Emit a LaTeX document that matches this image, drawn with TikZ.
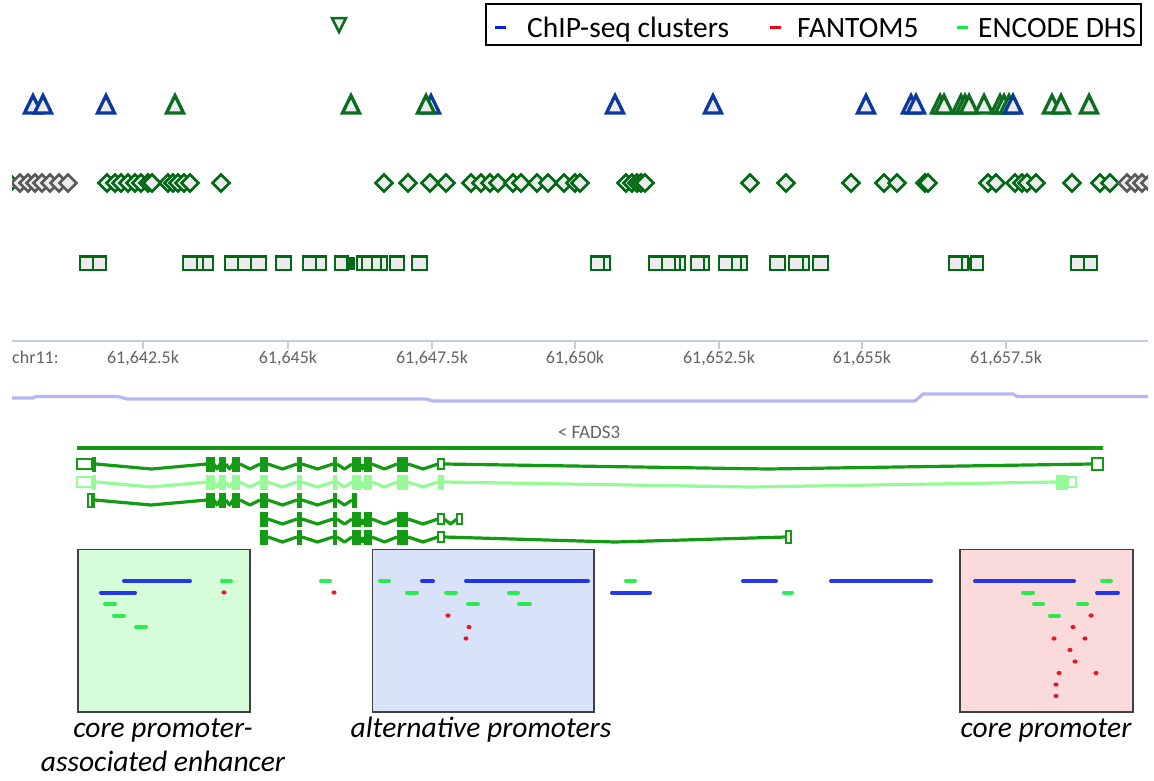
\documentclass[tikz,border=0pt]{standalone}
\usepackage{fontspec}
\setmainfont{Carlito}
\definecolor{trb}{RGB}{8,56,160}
\definecolor{trg}{RGB}{10,110,30}
\definecolor{dg}{RGB}{0,105,20}
\definecolor{gry}{RGB}{90,90,90}
\definecolor{axt}{RGB}{100,100,100}
\definecolor{shfill}{RGB}{236,236,236}
\definecolor{gg}{RGB}{20,155,20}
\definecolor{lg}{RGB}{150,250,150}
\definecolor{axc}{RGB}{196,206,226}
\definecolor{purp}{RGB}{182,182,242}
\definecolor{barb}{RGB}{10,30,235}
\definecolor{barg}{RGB}{20,235,60}
\definecolor{barr}{RGB}{235,0,20}
\definecolor{boxg}{RGB}{214,253,218}
\definecolor{boxb}{RGB}{216,226,248}
\definecolor{boxp}{RGB}{250,218,219}
\newcommand{\gexon}[4]{\fill[#4] (#1,{#3-7.5}) rectangle (#2,{#3+7.5});}
\newcommand{\gintr}[4]{\draw[intron,#4] (#1,#3)--({(#1+#2)/2},{#3+5})--(#2,#3);}
\newcommand{\gutr}[4]{\draw[utr,draw=#4] (#1,{#3-5}) rectangle (#2,{#3+5});}
\newcommand{\trishape}[2]{\draw[tri,draw=#2] ({#1-8.5},113)--(#1,95.5)--({#1+8.5},113)--cycle;}
\newcommand{\diashape}[2]{\draw[dia,draw=#2] ({#1-8.5},183)--(#1,174.5)--({#1+8.5},183)--(#1,191.5)--cycle;}
\newcommand{\sqshape}[2]{\draw[sq] (#1,256.5) rectangle (#2,270);}
\newcommand{\mybar}[4]{\draw[bar,#4] (#1,#3)--(#2,#3);}
\newcommand{\rdot}[2]{\fill[barr,opacity=0.9] (#1,#2) ellipse [x radius=2.6,y radius=2.1];}
\begin{document}
\begin{tikzpicture}[x=1pt,y=-1pt,
  tri/.style={line width=3.3pt,fill=shfill,line join=miter},
  dia/.style={line width=2.8pt,fill=shfill,line join=miter},
  sq/.style={line width=2.6pt,draw=dg,fill=shfill},
  intron/.style={line width=3.2pt,line join=round},
  utr/.style={line width=2pt,fill=white},
  bar/.style={line width=4pt,line cap=round,opacity=0.88},
  boxst/.style={draw=black!75,line width=1.4pt},
  axl/.style={font=\fontsize{18}{20}\selectfont,text=axt,anchor=base,inner sep=0pt},
  leg/.style={font=\fontsize{29.5}{32}\selectfont,anchor=base west,inner sep=0pt},
  captxt/.style={font=\fontsize{29.5}{32}\selectfont\itshape,anchor=base,inner sep=0pt}]
\useasboundingbox (0,0) rectangle (1154,780);
\fill[white] (0,0) rectangle (1154,780);

% top inverted triangle
\draw[tri,draw=trg,line width=2.5pt] (332,18)--(346,18)--(339,32)--cycle;

% legend
\draw[black,line width=1.3pt] (486,4) rectangle (1141,45);
\draw[barb,line width=3pt] (495,27)--(506,27);
\node[leg] (l1) at (527,37) {ChIP-seq clusters};
\draw[barr,line width=3pt] (770,27)--(781,27);
\node[leg] (l2) at (797,37) {FANTOM5};
\draw[barg,line width=3pt] (957,27)--(968,27);
\node[leg] (l3) at (978,37) {ENCODE DHS};

% triangles
\foreach \x in {33,43,106,431,615,713,866,911,916} {\trishape{\x}{trb}}
\foreach \x in {175,351,426,940,944,961,965,969,984,1000,1004,1009,1052,1061,1089} {\trishape{\x}{trg}}
\trishape{1013}{trb}

% diamonds
\begin{scope}
\clip (12,165) rectangle (1148,200);
\diashape{10}{dg}
\foreach \x in {20,28,35,42,50,59,68} {\diashape{\x}{gry}}
\foreach \x in {107,115,121,128,135,141,148,152,168,173,178,184,190,221,
  384,408,430,446,471,481,490,498,513,521,537,548,564,575,580,
  626,632,637,641,645,750,786,851,884,897,925,928,
  988,996,1015,1022,1027,1036,1072,1100,1110} {\diashape{\x}{dg}}
\foreach \x in {1127,1135,1142,1150} {\diashape{\x}{gry}}
\end{scope}

% squares
\foreach \a/\b in {80/93,93/106,183/197,197/203,203/213,225/238,238/251,251/266,276/291,
  303/316,316/326,335/348,357/362,362/372,372/381,381/387,390/404,412/427,
  591/604,604/610,649/662,662/675,675/680,680/685,691/704,704/709,
  719/732,732/741,741/747,770/785,789/803,803/809,813/828,
  949/962,962/968,971/983,1071/1084,1084/1097} {\sqshape{\a}{\b}}
\fill[dg] (346,256.5) rectangle (355,270);
\fill[dg] (967,256.5) rectangle (971,270);

% axis
\draw[axc,line width=1.2pt] (12,341)--(1148,341);
\foreach \x in {143,288,432,575,719,862,1006} {\draw[axc,line width=1.2pt] (\x,341)--(\x,349);}
\node[axl,anchor=base west] (chr) at (12,363) {chr11:};
\node[axl] (t1) at (143,363) {61,642.5k};
\node[axl] (t2) at (288,363) {61,645k};
\node[axl] (t3) at (432,363) {61,647.5k};
\node[axl] (t4) at (575,363) {61,650k};
\node[axl] (t5) at (719,363) {61,652.5k};
\node[axl] (t6) at (862,363) {61,655k};
\node[axl] (t7) at (1006,363) {61,657.5k};

% purple line
\draw[purp,line width=3.2pt] (12,398)--(33,398)--(36,396.5)--(118,396.5)--(127,399)--(426,399)--(433,401)--(915,401)--(923,394)--(1013,394)--(1017,396.5)--(1148,396.5);

% gene
\node[axl,font=\fontsize{19}{21}\selectfont] (fads) at (589,438) {< FADS3};
\draw[gg,line width=4pt] (77,447.5)--(1103,447.5);

% transcript 1
\foreach \a/\b in {96/207,214/220,226/233,240/260,268/297,302/333,337/352,361/364,372/397,408/438,444/1092} {\gintr{\a}{\b}{464}{gg}}
\gutr{77}{92}{464}{gg}
\gexon{92}{96}{464}{gg}
\foreach \a/\b in {206/215,219/226,232/240,260/268,297/302,333/337,352/361,364/372,397/408} {\gexon{\a}{\b}{464}{gg}}
\gutr{438}{444}{464}{gg}
\draw[utr,draw=gg] (1092,458) rectangle (1103,469.5);

% transcript 2
\foreach \a/\b in {96/207,214/220,226/233,240/260,268/297,302/333,337/352,361/364,372/397,408/438,444/1056} {\gintr{\a}{\b}{482}{lg}}
\gutr{77}{92}{482}{lg}
\gexon{92}{96}{482}{lg}
\foreach \a/\b in {206/215,219/226,232/240,260/268,297/302,333/337,352/361,364/372,397/408,438/444,1056/1068} {\gexon{\a}{\b}{482}{lg}}
\gutr{1068}{1076}{482}{lg}

% transcript 3
\foreach \a/\b in {95/207,214/220,226/233,240/260,268/297,302/333,337/352} {\gintr{\a}{\b}{500}{gg}}
\draw[utr,draw=gg] (88,494) rectangle (92,507);
\gexon{92}{95}{500}{gg}
\foreach \a/\b in {206/215,219/226,232/240,260/268,297/302,333/337,352/357} {\gexon{\a}{\b}{500}{gg}}

% transcript 4
\foreach \a/\b in {268/297,302/333,337/352,361/364,372/397,408/438,444/457} {\gintr{\a}{\b}{519}{gg}}
\foreach \a/\b in {260/268,297/302,333/337,352/361,364/372,397/408} {\gexon{\a}{\b}{519}{gg}}
\gutr{438}{444}{519}{gg}
\gutr{457}{462}{519}{gg}

% transcript 5
\foreach \a/\b in {268/297,302/333,337/352,361/364,372/397,408/438,444/786} {\gintr{\a}{\b}{537}{gg}}
\foreach \a/\b in {260/268,297/302,333/337,352/361,364/372,397/408} {\gexon{\a}{\b}{537}{gg}}
\gutr{438}{444}{537}{gg}
\draw[utr,draw=gg] (786,531) rectangle (791,543);

% boxes
\draw[boxst,fill=boxg] (78,549.5) rectangle (250,712);
\draw[boxst,fill=boxb] (372.5,549.5) rectangle (594,712);
\draw[boxst,fill=boxp] (960,549.5) rectangle (1133,712);

% bars - green box
\mybar{124}{190}{581}{barb}
\mybar{101}{135}{592.5}{barb}
\mybar{105}{115}{604}{barg}
\mybar{114}{124}{615.5}{barg}
\mybar{136}{146}{627}{barg}
\mybar{222}{231}{581}{barg}
\rdot{224}{592.5}
% between
\mybar{321}{330}{581}{barg}
\rdot{334}{592.5}
% blue box
\mybar{380}{389}{581}{barg}
\mybar{422}{433}{581}{barb}
\mybar{466}{588}{581}{barb}
\mybar{407}{417}{592.5}{barg}
\mybar{446}{456}{592.5}{barg}
\mybar{509}{518}{592.5}{barg}
\mybar{468}{478}{604}{barg}
\mybar{519}{530}{604}{barg}
\rdot{448}{615.5}
\rdot{469}{627}
\rdot{466}{638.5}
% middle
\mybar{626}{635}{581}{barg}
\mybar{612}{650}{592.5}{barb}
\mybar{743}{776}{581}{barb}
\mybar{784}{792}{592.5}{barg}
\mybar{831}{931}{581}{barb}
% pink box
\mybar{975}{1074}{581}{barb}
\mybar{1102}{1111}{581}{barg}
\mybar{1097}{1118}{592.5}{barb}
\mybar{1023}{1033}{592.5}{barg}
\mybar{1034}{1043}{604}{barg}
\mybar{1078}{1087}{604}{barg}
\mybar{1050}{1059}{615.5}{barg}
\rdot{1091}{615.5}
\rdot{1073}{627}
\rdot{1054}{638.5}
\rdot{1085}{638.5}
\rdot{1070}{650}
\rdot{1075}{661.5}
\rdot{1059}{673}
\rdot{1096}{673}
\rdot{1056}{684.5}
\rdot{1056}{696}

% captions
\node[captxt] (c1) at (163,737) {core promoter-};
\node[captxt] (c2) at (163,771) {associated enhancer};
\node[captxt] (c3) at (481,737) {alternative promoters};
\node[captxt] (c4) at (1046,737) {core promoter};
\end{tikzpicture}
\end{document}
